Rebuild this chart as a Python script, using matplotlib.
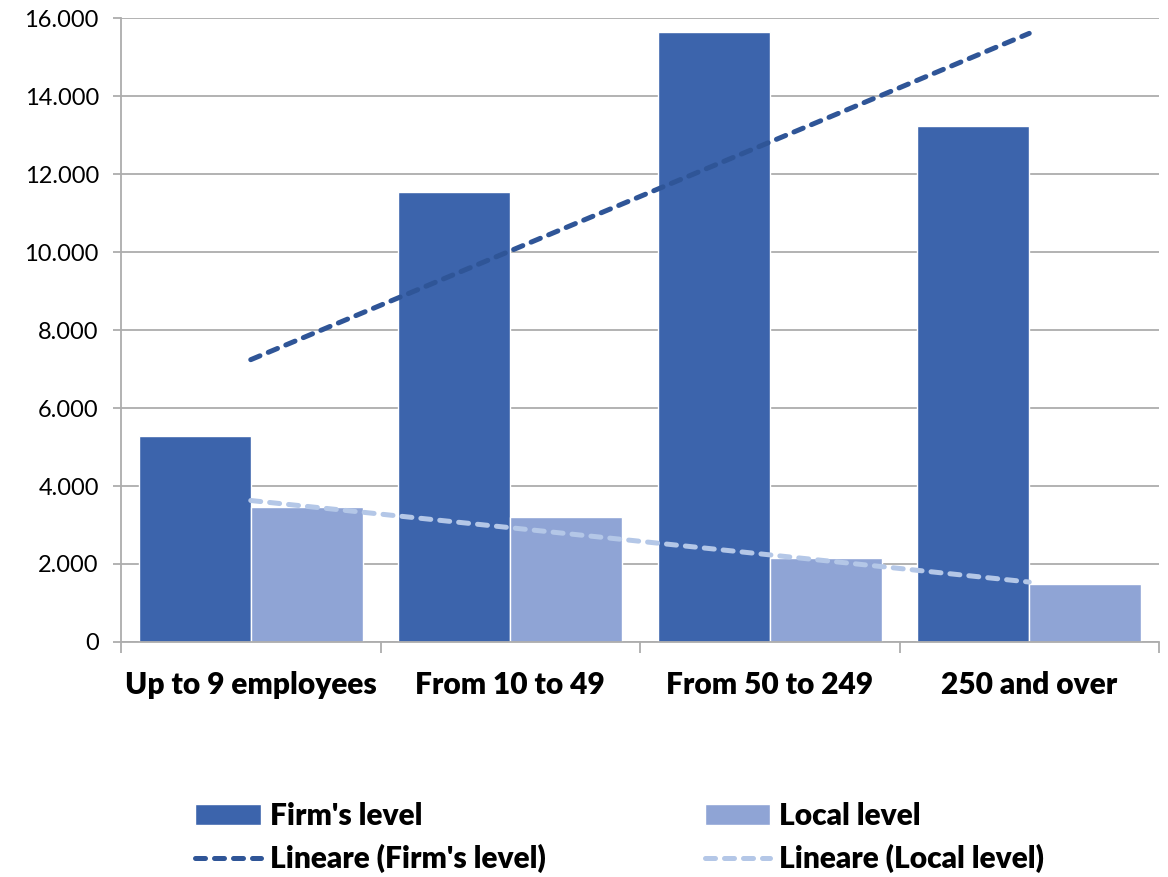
import numpy as np
import matplotlib
matplotlib.use("Agg")
import matplotlib.pyplot as plt
from matplotlib.ticker import FuncFormatter, FixedLocator

categories = ["Up to 9 employees", "From 10 to 49", "From 50 to 249", "250 and over"]
firm_level = [5290, 11540, 15640, 13220]
local_level = [3470, 3210, 2150, 1500]
series_names = ["Firm's level", "Local level"]
trend_names = ["Lineare (Firm's level)", "Lineare (Local level)"]

c_firm = "#3C64AC"
c_local = "#8FA4D5"
c_tfirm = "#2F5597"
c_tlocal = "#B4C7E7"

plt.rcParams['font.family'] = ['Lato', 'DejaVu Sans']

fig = plt.figure(figsize=(11.68, 8.77), dpi=100)
ax = fig.add_axes([121/1168, 1-642/877, (1159-121)/1168, (642-18)/877])

x = np.arange(len(categories))
w = 0.432
b1 = ax.bar(x - w/2, firm_level, w, color=c_firm, edgecolor="white", linewidth=1.0, label=series_names[0], zorder=2)
b2 = ax.bar(x + w/2, local_level, w, color=c_local, edgecolor="white", linewidth=1.0, label=series_names[1], zorder=2)

# linear trendlines (least squares over category index)
xi = x + 1
pf = np.polyfit(xi, firm_level, 1)
pl = np.polyfit(xi, local_level, 1)
dash = (0, (2.0, 1.8))
l1, = ax.plot(x, np.polyval(pf, xi), color=c_tfirm, lw=3.6, ls=dash, dash_capstyle='round', label=trend_names[0], zorder=3)
l2, = ax.plot(x, np.polyval(pl, xi), color=c_tlocal, lw=3.6, ls=dash, dash_capstyle='round', label=trend_names[1], zorder=3)

ax.set_xlim(-0.5, len(categories) - 0.5)
ax.set_ylim(0, 16000)
ax.yaxis.set_major_locator(FixedLocator(np.arange(0, 16001, 2000)))
ax.yaxis.set_major_formatter(FuncFormatter(lambda v, p: f"{int(v):,}".replace(",", ".")))
ax.grid(axis='y', color="#ADADAD", lw=1.3, zorder=0)
ax.set_axisbelow(True)

ax.set_xticks(x)
ax.set_xticklabels(categories, fontsize=21.5, fontweight='heavy')
ax.set_xticks(np.arange(-0.5, len(categories)), minor=True)
ax.tick_params(axis='x', which='major', length=0, pad=21)
ax.tick_params(axis='x', which='minor', length=8, width=1.3, color="#ADADAD", direction='out')
ax.tick_params(axis='y', length=6, width=1.3, color="#ADADAD", labelsize=17, pad=10)

for s in ['top', 'right']:
    ax.spines[s].set_visible(False)
for s in ['left', 'bottom']:
    ax.spines[s].set_color("#ADADAD")
    ax.spines[s].set_linewidth(1.3)

fig.legend(handles=[b1, l1, b2, l2], labels=[series_names[0], trend_names[0], series_names[1], trend_names[1]],
           ncol=2, loc='upper left', bbox_to_anchor=(195/1168, 1-802/877), frameon=False,
           prop={'size': 21.5, 'weight': 'heavy'}, handlelength=2.2, handletextpad=0.3,
           columnspacing=5.33, labelspacing=0.47, borderaxespad=0, borderpad=0)

fig.savefig("out.png", dpi=100)
